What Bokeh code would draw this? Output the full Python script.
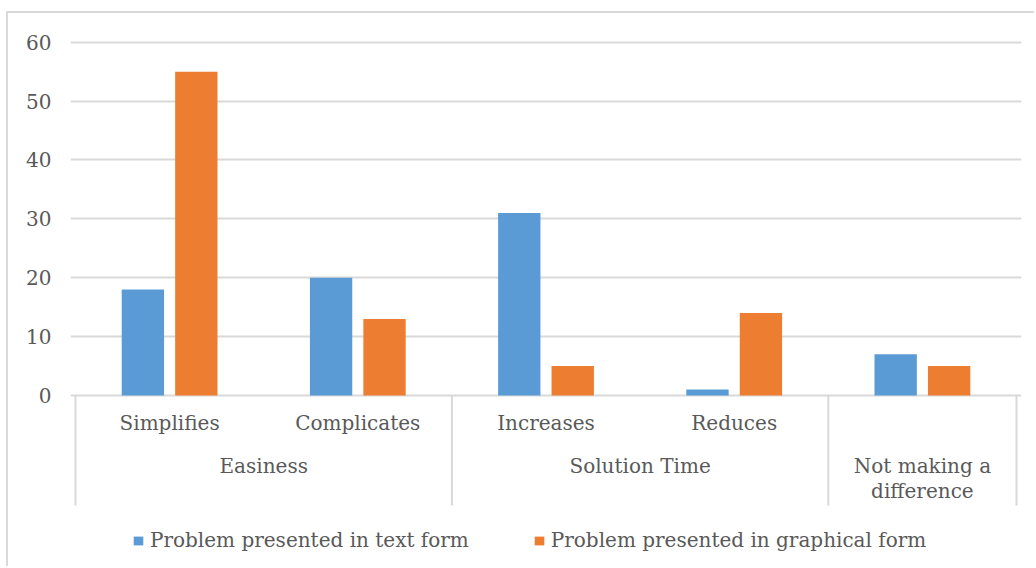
import textwrap

import numpy as np
from bokeh.core.properties import value
from bokeh.embed import file_html
from bokeh.models import ColumnDataSource, FixedTicker, Range1d
from bokeh.plotting import figure
from bokeh.resources import INLINE

# ---- data -------------------------------------------------------------
subcategories = ["Simplifies", "Complicates", "Increases", "Reduces", ""]
groups = ["Easiness", "Solution Time", "Not making a difference"]
group_sizes = [2, 2, 1]
text_form = [18, 20, 31, 1, 7]
graphical_form = [55, 13, 5, 14, 5]
series_names = ["Problem presented in text form", "Problem presented in graphical form"]
series_colors = ["#5B9BD5", "#ED7D31"]
y_ticks = [0, 10, 20, 30, 40, 50, 60]

# ---- layout constants ---------------------------------------------------
W, H = 1036, 568            # page size
OX, OY = 8, 13              # chart-area offset on the page (border corner)
FONT = "DejaVu Serif"
TEXT_COLOR = "#595959"
LINE_COLOR = "#d9d9d9"
PX_Y = 353.3 / 60.0          # pixels per y unit
PX_X = 188.2                 # pixels per category
n_cat = len(subcategories)
pad_x = ((W - 70 - 15) / PX_X - n_cat) / 2.0
y_hi = 60 + (41.7 - 30) / PX_Y
y_lo = -(H - 395) / PX_Y

p = figure(
    width=W - OX, height=H - OY,
    output_backend="svg", toolbar_location=None,
    x_range=Range1d(-pad_x, n_cat + pad_x),
    y_range=Range1d(y_lo, y_hi),
    x_axis_type=None,
    min_border_left=70 - OX, min_border_right=15,
    min_border_top=30 - OY, min_border_bottom=0,
)
p.outline_line_color = None
p.background_fill_color = "white"
p.border_fill_color = "white"
# chart-area border along the top and left edges
p.margin = (OY - 2, 0, 0, OX - 2)
p.styles = {
    "border-top": f"2px solid {LINE_COLOR}",
    "border-left": f"2px solid {LINE_COLOR}",
}

# y axis: labels only
ticker = FixedTicker(ticks=y_ticks)
yax = p.yaxis[0]
yax.ticker = ticker
yax.axis_line_color = None
yax.major_tick_line_color = None
yax.minor_tick_line_color = None
yax.major_tick_out = 0
yax.major_tick_in = 0
yax.major_label_standoff = 19
yax.major_label_text_font = FONT
yax.major_label_text_font_size = "20px"
yax.major_label_text_color = TEXT_COLOR

p.xgrid.visible = False
p.ygrid.ticker = ticker
p.ygrid.bounds = (0, n_cat)
p.ygrid.grid_line_color = LINE_COLOR
p.ygrid.grid_line_width = 2

# ---- bars -------------------------------------------------------------
centers = np.arange(n_cat) + 0.5
offset, bar_w = 0.142, 0.225
src = ColumnDataSource(dict(
    x_text=centers - offset, x_graph=centers + offset,
    text_form=text_form, graphical_form=graphical_form,
))
p.vbar(x="x_text", top="text_form", width=bar_w, source=src,
       fill_color=series_colors[0], line_color=None, legend_label=series_names[0])
p.vbar(x="x_graph", top="graphical_form", width=bar_w, source=src,
       fill_color=series_colors[1], line_color=None, legend_label=series_names[1])

# ---- two-level category axis ------------------------------------------
bounds = np.concatenate([[0], np.cumsum(group_sizes)])
sep_bottom = -(505 - 395) / PX_Y
p.segment(x0=bounds, x1=bounds, y0=[0] * len(bounds), y1=[sep_bottom] * len(bounds),
          line_color=LINE_COLOR, line_width=2)

label_style = dict(text_font=value(FONT), text_font_size="20px", text_color=TEXT_COLOR,
                   text_align="center", text_baseline="alphabetic")
p.text(x=centers, y=[-(422 - 395) / PX_Y] * n_cat, text=subcategories, **label_style)

gx, gy, gt = [], [], []
line_gap = 25
for i, name in enumerate(groups):
    mid = (bounds[i] + bounds[i + 1]) / 2.0
    for j, line in enumerate(textwrap.wrap(name, width=13)):
        gx.append(mid)
        gy.append(-(465 + j * line_gap - 395) / PX_Y)
        gt.append(line)
p.text(x=gx, y=gy, text=gt, **label_style)

# ---- legend -----------------------------------------------------------
lg = p.legend[0]
lg.orientation = "horizontal"
lg.location = (62, 16)
lg.padding = 0
lg.margin = 0
lg.spacing = 64
lg.glyph_width = 12
lg.glyph_height = 11
lg.label_standoff = 6
lg.label_height = 20
lg.label_text_font = FONT
lg.label_text_font_size = "20px"
lg.label_text_color = TEXT_COLOR
lg.border_line_color = None
lg.background_fill_alpha = 0

open("out.html", "w").write(file_html(p, INLINE))
